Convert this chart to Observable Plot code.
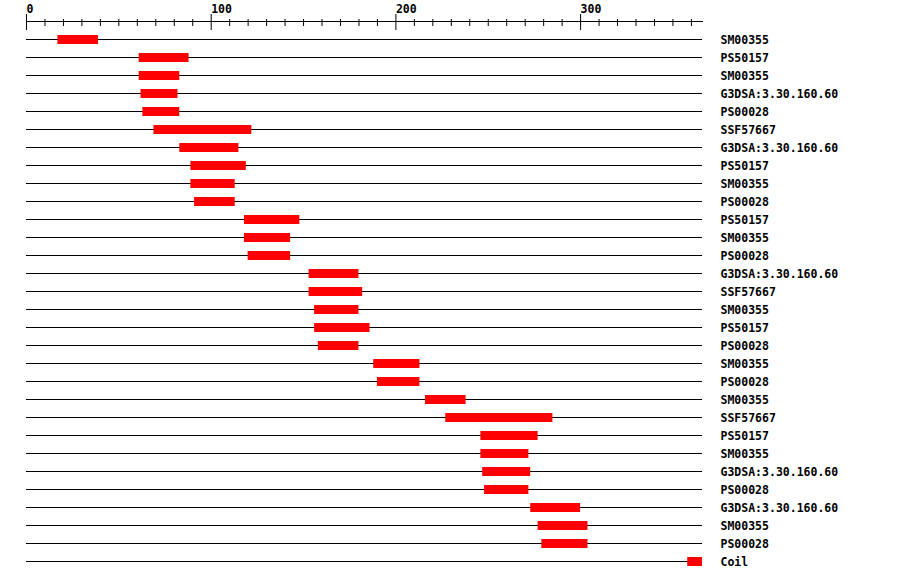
<!DOCTYPE html>
<html>
<head>
<meta charset="utf-8">
<script src="https://cdn.jsdelivr.net/npm/d3@7"></script>
<script src="https://cdn.jsdelivr.net/npm/@observablehq/plot@0.6"></script>
<style>
  html, body { margin: 0; padding: 0; background: white; }
</style>
</head>
<body>
<div id="chart"></div>
<script>
const labels = [
  "SM00355", "PS50157", "SM00355", "G3DSA:3.30.160.60", "PS00028",
  "SSF57667", "G3DSA:3.30.160.60", "PS50157", "SM00355", "PS00028",
  "PS50157", "SM00355", "PS00028", "G3DSA:3.30.160.60", "SSF57667",
  "SM00355", "PS50157", "PS00028", "SM00355", "PS00028",
  "SM00355", "SSF57667", "PS50157", "SM00355", "G3DSA:3.30.160.60",
  "PS00028", "G3DSA:3.30.160.60", "SM00355", "PS00028", "Coil"
];
const starts = [
  17, 61, 61, 62, 63,
  69, 83, 89, 89, 91,
  118, 118, 120, 153, 153,
  156, 156, 158, 188, 190,
  216, 227, 246, 246, 247,
  248, 273, 277, 279, 358
];
const ends = [
  39, 88, 83, 82, 83,
  122, 115, 119, 113, 113,
  148, 143, 143, 180, 182,
  180, 186, 180, 213, 213,
  238, 285, 277, 272, 273,
  272, 300, 304, 304, 366
];
const seqLength = 366;
const majorTicks = [0, 100, 200, 300];
const minorTicks = d3.range(10, 361, 10).filter(v => v % 100 !== 0);

const rows = labels.map((label, i) => ({i, label, start: starts[i], end: ends[i]}));

const chart = Plot.plot({
  width: 900,
  height: 580,
  marginLeft: 26,
  marginRight: 198,
  marginTop: 21,
  marginBottom: 19,
  x: {domain: [0, seqLength], axis: null},
  y: {type: "point", domain: d3.range(rows.length), range: [39, 561], padding: 0, axis: null},
  style: {
    fontFamily: "'DejaVu Sans Mono', monospace",
    fontSize: "11.5px",
    fontWeight: "bold",
    background: "white",
    color: "black"
  },
  marks: [
    Plot.frame({anchor: "top", stroke: "black"}),
    Plot.axisX(minorTicks, {anchor: "top", tickSize: 7, dy: 4, stroke: "black", strokeOpacity: 1, tickFormat: () => "", label: null}),
    Plot.axisX(majorTicks, {anchor: "top", tickSize: 16, dy: 8, stroke: "black", strokeOpacity: 1, tickFormat: () => "", label: null}),
    Plot.axisX(majorTicks, {anchor: "top", tickSize: 0, tickPadding: 9, textAnchor: "start", fill: "black", fontWeight: "bold", label: null}),
    Plot.ruleY(rows, {y: "i", x1: () => 0, x2: () => seqLength, stroke: "black", strokeWidth: 1}),
    Plot.ruleY(rows, {y: "i", x1: "start", x2: "end", stroke: "#ff0000", strokeWidth: 9}),
    Plot.text(rows, {y: "i", text: "label", frameAnchor: "right", textAnchor: "start", dx: 18, dy: 1, fill: "black", fontWeight: "bold"})
  ]
});
document.getElementById("chart").appendChild(chart);
</script>
</body>
</html>
